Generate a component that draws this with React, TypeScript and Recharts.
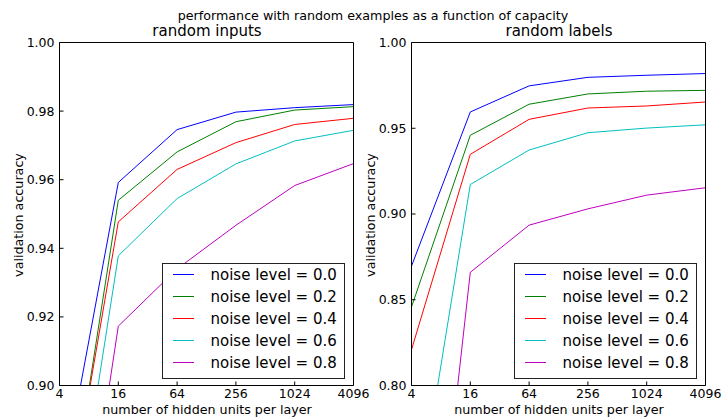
import { LineChart, Line, XAxis, YAxis, Legend } from "recharts";

// hidden units per layer (x), log-spaced
const units = [4, 16, 64, 256, 1024, 4096];
const noiseLabels = [
  "noise level = 0.0",
  "noise level = 0.2",
  "noise level = 0.4",
  "noise level = 0.6",
  "noise level = 0.8",
];
const lineColors = ["#0000ff", "#008000", "#ff0000", "#00bfbf", "#bf00bf"];

// random inputs
const inputsNoise00 = [0.867, 0.9592, 0.9746, 0.9797, 0.981, 0.9819];
const inputsNoise02 = [0.844, 0.954, 0.9681, 0.9769, 0.9803, 0.9813];
const inputsNoise04 = [0.848, 0.9477, 0.963, 0.9708, 0.9761, 0.9779];
const inputsNoise06 = [0.828, 0.9378, 0.9545, 0.9646, 0.9713, 0.9744];
const inputsNoise08 = [0.804, 0.9173, 0.934, 0.9467, 0.9583, 0.9647];

// random labels
const labelsNoise00 = [0.8696, 0.9595, 0.9747, 0.9797, 0.9809, 0.9819];
const labelsNoise02 = [0.8458, 0.9459, 0.964, 0.97, 0.9716, 0.9721];
const labelsNoise04 = [0.8209, 0.9348, 0.9552, 0.9618, 0.963, 0.9653];
const labelsNoise06 = [0.706, 0.9172, 0.9373, 0.9474, 0.9501, 0.952];
const labelsNoise08 = [0.558, 0.866, 0.8935, 0.903, 0.911, 0.9153];

const inputsTicks = [0.9, 0.92, 0.94, 0.96, 0.98, 1.0];
const labelsTicks = [0.8, 0.85, 0.9, 0.95, 1.0];

const FONT = "'DejaVu Sans', sans-serif";

function toRows(series: number[][]) {
  return units.map((u, i) => {
    const row: Record<string, number> = { units: u };
    series.forEach((s, k) => {
      row["s" + k] = s[i];
    });
    return row;
  });
}

function LegendBox() {
  return (
    <div
      style={{
        position: "relative",
        boxSizing: "border-box",
        width: 183,
        height: 116,
        border: "1.5px solid #222",
        background: "#fff",
        fontFamily: FONT,
        fontSize: 15,
        color: "#000",
      }}
    >
      {noiseLabels.map((label, k) => (
        <div key={label}>
          <div
            style={{
              position: "absolute",
              left: 10,
              top: 10.6 + 22 * k,
              width: 21,
              height: 1,
              background: lineColors[k],
            }}
          />
          <div
            style={{
              position: "absolute",
              left: 47.8,
              top: 2.1 + 22 * k,
              lineHeight: "18px",
              whiteSpace: "nowrap",
            }}
          >
            {label}
          </div>
        </div>
      ))}
    </div>
  );
}

function Panel({
  series,
  domain,
  yTicks,
  yAxisWidth,
  width,
  rightMargin,
  legendLeft,
}: {
  series: number[][];
  domain: [number, number];
  yTicks: number[];
  yAxisWidth: number;
  width: number;
  rightMargin: number;
  legendLeft: number;
}) {
  const rows = toRows(series);
  const axisCommon = { stroke: "#000", tickSize: -4 };
  return (
    <LineChart width={width} height={419} data={rows} margin={{ top: 41.5, right: rightMargin, bottom: 0, left: 0 }}>
      <XAxis
        dataKey="units"
        type="number"
        scale="log"
        domain={[4, 4096]}
        ticks={units}
        allowDataOverflow
        height={33.5}
        tickMargin={8}
        tick={{ fontSize: 12.5, fill: "#000", fontFamily: FONT }}
        {...axisCommon}
      />
      <XAxis
        xAxisId="top"
        orientation="top"
        dataKey="units"
        type="number"
        scale="log"
        domain={[4, 4096]}
        ticks={units}
        allowDataOverflow
        height={1}
        tick={false}
        {...axisCommon}
      />
      <YAxis
        type="number"
        domain={domain}
        ticks={yTicks}
        allowDataOverflow
        width={yAxisWidth}
        tickMargin={9}
        tickFormatter={(v: number) => v.toFixed(2)}
        tick={{ fontSize: 12.5, fill: "#000", fontFamily: FONT }}
        {...axisCommon}
      />
      <YAxis
        yAxisId="right"
        orientation="right"
        type="number"
        domain={domain}
        ticks={yTicks}
        allowDataOverflow
        width={1}
        tick={false}
        {...axisCommon}
      />
      {series.map((_, k) => (
        <Line
          key={k}
          type="linear"
          dataKey={"s" + k}
          name={noiseLabels[k]}
          stroke={lineColors[k]}
          strokeWidth={1}
          dot={false}
          isAnimationActive={false}
        />
      ))}
      <Legend
        layout="vertical"
        align="center"
        verticalAlign="middle"
        content={() => <LegendBox />}
        wrapperStyle={{ left: legendLeft, top: 262.7, width: 183, height: 116 }}
      />
    </LineChart>
  );
}

export default function App() {
  return (
    <div style={{ position: "absolute", left: 0, top: 0, width: 722, height: 419, background: "#fff", fontFamily: FONT }}>
      <div style={{ position: "absolute", left: 0, top: 0 }}>
        <Panel
          series={[inputsNoise00, inputsNoise02, inputsNoise04, inputsNoise06, inputsNoise08]}
          domain={[0.9, 1.0]}
          yTicks={inputsTicks}
          yAxisWidth={59.5}
          width={385}
          rightMargin={30.5}
          legendLeft={161.7}
        />
      </div>
      <div style={{ position: "absolute", left: 361, top: 0 }}>
        <Panel
          series={[labelsNoise00, labelsNoise02, labelsNoise04, labelsNoise06, labelsNoise08]}
          domain={[0.8, 1.0]}
          yTicks={labelsTicks}
          yAxisWidth={50.5}
          width={361}
          rightMargin={15.5}
          legendLeft={152.7}
        />
      </div>
      <svg
        width={722}
        height={419}
        style={{ position: "absolute", left: 0, top: 0, pointerEvents: "none" }}
        fontFamily={FONT}
      >
        <text x={373} y={20} fontSize={12.7} textAnchor="middle">
          performance with random examples as a function of capacity
        </text>
        <text x={207} y={36} fontSize={15} textAnchor="middle">
          random inputs
        </text>
        <text x={559} y={36} fontSize={15} textAnchor="middle">
          random labels
        </text>
        <text x={207} y={414} fontSize={12.7} textAnchor="middle">
          number of hidden units per layer
        </text>
        <text x={559} y={414} fontSize={12.7} textAnchor="middle">
          number of hidden units per layer
        </text>
        <text transform="translate(22.5,215) rotate(-90)" fontSize={12.7} textAnchor="middle">
          validation accuracy
        </text>
        <text transform="translate(374.5,215) rotate(-90)" fontSize={12.7} textAnchor="middle">
          validation accuracy
        </text>
      </svg>
    </div>
  );
}
